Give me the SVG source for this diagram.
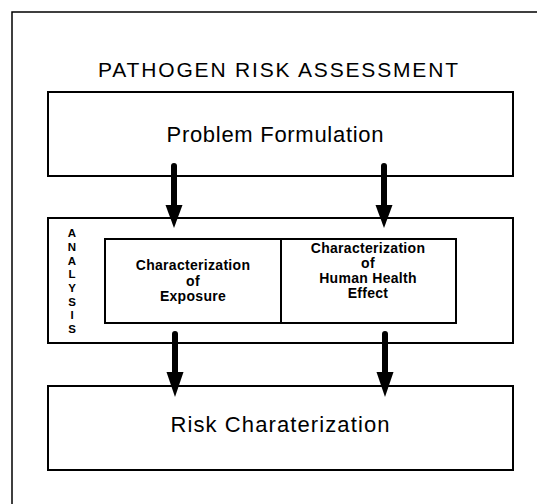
<svg xmlns="http://www.w3.org/2000/svg" width="537" height="504" viewBox="0 0 537 504">
<style>
.box{fill:none;stroke:#000;stroke-width:2}
.t{font-family:"Liberation Sans",Arial,sans-serif;fill:#000;text-anchor:middle}
.big{font-size:22px}
.sm{font-size:14px;font-weight:bold;letter-spacing:0.3px}
.ana{font-size:11.5px;font-weight:bold}
.shaft{stroke:#000;stroke-width:6;stroke-linecap:round}
.head{fill:#000}
</style>
<rect width="537" height="504" fill="#fff"/>
<path d="M12,504 V12 H537" fill="none" stroke="#000" stroke-width="1.5"/>
<text class="t" x="278" y="77" font-size="21" textLength="360" lengthAdjust="spacing">PATHOGEN RISK ASSESSMENT</text>
<g id="problem">
<rect class="box" x="48" y="92" width="465" height="84"/>
<text class="t big" x="275" y="142" textLength="217" lengthAdjust="spacing">Problem Formulation</text>
</g>
<g id="analysis">
<rect class="box" x="48" y="218" width="465" height="125"/>
<g class="t ana">
<text x="72" y="237">A</text>
<text x="72" y="251">N</text>
<text x="72" y="265">A</text>
<text x="72" y="278">L</text>
<text x="72" y="292">Y</text>
<text x="72" y="306">S</text>
<text x="72" y="319">I</text>
<text x="72" y="333">S</text>
</g>
</g>
<g id="exposure">
<rect class="box" x="105" y="239" width="176" height="84"/>
<text class="t sm" x="193" y="270">Characterization</text>
<text class="t sm" x="193" y="286">of</text>
<text class="t sm" x="193" y="301">Exposure</text>
</g>
<g id="health">
<rect class="box" x="281" y="239" width="175" height="84"/>
<text class="t sm" x="368" y="253">Characterization</text>
<text class="t sm" x="368" y="268">of</text>
<text class="t sm" x="368" y="283">Human Health</text>
<text class="t sm" x="368" y="298">Effect</text>
</g>
<g id="risk">
<rect class="box" x="48" y="386" width="465" height="84"/>
<text class="t big" x="280" y="432" textLength="219" lengthAdjust="spacing">Risk Charaterization</text>
</g>
<g id="connectors">
<line class="shaft" x1="174" y1="166" x2="174" y2="207"/>
<polygon class="head" points="165.5,205 182.5,205 174,228"/>
<line class="shaft" x1="384" y1="166" x2="384" y2="207"/>
<polygon class="head" points="375.5,205 392.5,205 384,228"/>
<line class="shaft" x1="175" y1="334" x2="175" y2="374"/>
<polygon class="head" points="166.5,372 183.5,372 175,397"/>
<line class="shaft" x1="385" y1="334" x2="385" y2="374"/>
<polygon class="head" points="376.5,372 393.5,372 385,397"/>
</g>
</svg>
